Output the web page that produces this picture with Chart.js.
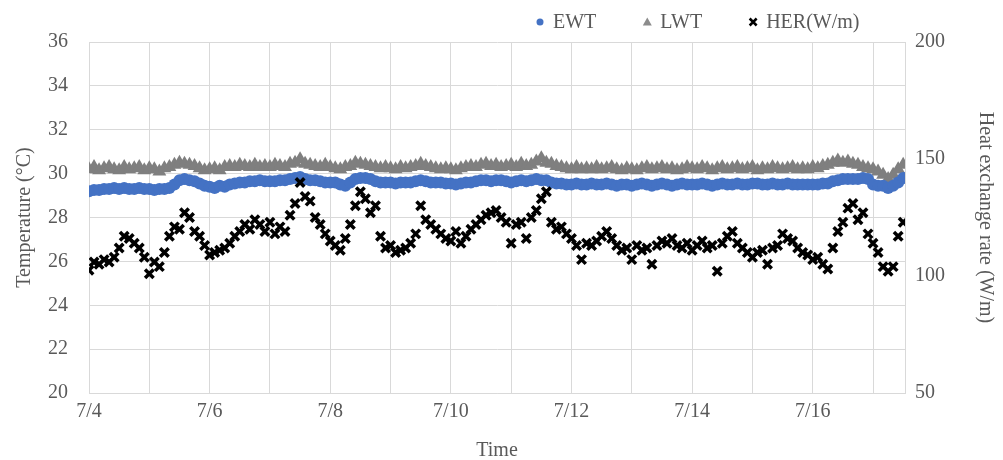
<!DOCTYPE html>
<html>
<head>
<meta charset="utf-8">
<script src="https://cdn.jsdelivr.net/npm/chart.js@4.4.1/dist/chart.umd.min.js"></script>
<style>
	html, body { margin: 0; background: #fff; }
	#wrap { width: 1003px; height: 460px; }
</style>
</head>
<body>
<div id="wrap"><canvas id="chart" width="1003" height="460"></canvas></div>
<script>
// samples every 2 h starting 7/4 00:00
const stepHours = 2;
const xLabels = ["7/4", "7/6", "7/8", "7/10", "7/12", "7/14", "7/16"];
const leftTicks = [20, 36, 2];
const rightTicks = [50, 200, 50];

// entering water temperature (°C)
const ewt = [
	29.2, 29.25, 29.25, 29.3, 29.3, 29.35, 29.3, 29.35, 29.3, 29.3, 29.35, 29.3, 29.3, 29.25, 29.3, 29.3, 29.35,
	29.5, 29.7, 29.75, 29.7, 29.65, 29.55,
	29.45, 29.4, 29.35, 29.45, 29.4,
	29.5, 29.55, 29.6, 29.6, 29.65, 29.65, 29.7, 29.65, 29.65,
	29.65, 29.7, 29.7, 29.75, 29.8, 29.85,
	29.75, 29.7, 29.7, 29.65, 29.6, 29.6, 29.6,
	29.5, 29.45, 29.6,
	29.75, 29.8, 29.8, 29.75,
	29.65, 29.6, 29.6, 29.6, 29.55, 29.6, 29.6, 29.6, 29.65,
	29.7, 29.65, 29.6, 29.6, 29.6, 29.55, 29.55,
	29.5, 29.55, 29.6, 29.6, 29.65, 29.7, 29.7, 29.65, 29.7, 29.7, 29.65,
	29.6, 29.65, 29.7, 29.65, 29.7, 29.75, 29.7, 29.7,
	29.6, 29.55, 29.55, 29.5, 29.5, 29.55, 29.5, 29.5, 29.55,
	29.5, 29.5, 29.55, 29.5, 29.45, 29.5, 29.5, 29.45, 29.5, 29.55, 29.5, 29.45,
	29.5, 29.55, 29.5, 29.45, 29.5, 29.55, 29.5, 29.5, 29.5, 29.55, 29.5, 29.45, 29.5, 29.55,
	29.5, 29.5, 29.55, 29.5, 29.5, 29.55, 29.55, 29.5, 29.5, 29.55, 29.5, 29.5, 29.55, 29.5,
	29.5, 29.5, 29.5, 29.5, 29.5, 29.55, 29.55, 29.65, 29.7, 29.75, 29.75, 29.75, 29.75, 29.8,
	29.75, 29.5, 29.45, 29.45, 29.35, 29.45, 29.6, 29.8,
];

// leaving water temperature (°C)
const lwt = [
	30.2, 30.3, 30.15, 30.25, 30.3, 30.2, 30.15, 30.3, 30.2, 30.25,
	30.3, 30.15, 30.25, 30.2, 30.1, 30.25, 30.3, 30.4, 30.5, 30.45,
	30.4, 30.35, 30.25, 30.15, 30.2, 30.25, 30.15, 30.3, 30.35, 30.3,
	30.4, 30.35, 30.3, 30.4, 30.3, 30.35, 30.3, 30.4, 30.35, 30.3,
	30.45, 30.5, 30.65, 30.45, 30.4, 30.35, 30.3, 30.4, 30.3, 30.25,
	30.2, 30.3, 30.35, 30.5, 30.45, 30.4, 30.35, 30.3, 30.25, 30.3,
	30.25, 30.2, 30.3, 30.25, 30.3, 30.35, 30.45, 30.35, 30.3, 30.25,
	30.2, 30.25, 30.2, 30.15, 30.25, 30.3, 30.35, 30.3, 30.4, 30.45,
	30.35, 30.4, 30.3, 30.35, 30.4, 30.3, 30.45, 30.35, 30.4, 30.55,
	30.7, 30.5, 30.45, 30.35, 30.3, 30.25, 30.2, 30.3, 30.2, 30.25,
	30.2, 30.3, 30.2, 30.25, 30.3, 30.2, 30.15, 30.25, 30.2, 30.15,
	30.25, 30.3, 30.2, 30.25, 30.3, 30.2, 30.25, 30.15, 30.2, 30.3,
	30.25, 30.2, 30.3, 30.25, 30.15, 30.25, 30.3, 30.2, 30.25, 30.3,
	30.2, 30.25, 30.3, 30.15, 30.25, 30.2, 30.3, 30.25, 30.2, 30.25,
	30.3, 30.2, 30.25, 30.2, 30.3, 30.25, 30.35, 30.4, 30.5, 30.6,
	30.5, 30.55, 30.45, 30.4, 30.3, 30.25, 30.2, 30.1, 29.95, 29.75,
	29.95, 30.2, 30.4,
];

// heat exchange rate (W/m)
const her = [
	102.5, 106, 105, 107, 106, 108, 112, 117, 116, 114,
	112, 108, 101, 106, 104, 110, 117, 121, 120, 127,
	125, 119, 117, 113, 109, 110, 111, 112, 114, 117,
	119, 122, 120, 124, 122, 119, 123, 118, 121, 119,
	126, 131, 140, 134, 132, 125, 122, 118, 115, 113,
	111, 116, 122, 130, 136, 133, 127, 130, 117, 112,
	113, 110, 111, 112, 114, 118, 130, 124, 122, 120,
	118, 116, 115, 119, 114, 117, 120, 122, 124, 126,
	127, 128, 125, 123, 114, 122, 123, 116, 125, 128,
	133, 136, 123, 120, 121, 118, 116, 113, 107, 114,
	113, 115, 117, 119, 116, 113, 111, 112, 107, 113,
	111, 112, 105, 113, 115, 114, 116, 113, 112, 114,
	111, 113, 115, 112, 113, 102, 114, 117, 119, 114,
	112, 110, 108, 110, 111, 105, 112, 113, 118, 116,
	115, 112, 110, 109, 107, 108, 105, 103, 112, 119,
	123, 129, 131, 124, 127, 118, 114, 110, 104, 102,
	104, 117, 123,
];

const textColor = "#595959";
const gridColor = "#d9d9d9";
const serif = "'Liberation Serif', 'Times New Roman', serif";

const toPoints = (arr) => arr.map((y, i) => ({ x: (i * stepHours) / 24, y }));

const legendItems = [
	{ label: "EWT", style: "circle", color: "#4472C4" },
	{ label: "LWT", style: "triangle", color: "#8c8c8c" },
	{ label: "HER(W/m)", style: "cross", color: "#000000" },
];

function drawMarker(ctx, style, x, y, color) {
	ctx.save();
	ctx.fillStyle = color;
	ctx.strokeStyle = color;
	if (style === "circle") {
		ctx.beginPath();
		ctx.arc(x, y, 3.5, 0, Math.PI * 2);
		ctx.fill();
	} else if (style === "triangle") {
		ctx.beginPath();
		ctx.moveTo(x, y - 4.5);
		ctx.lineTo(x + 4.5, y + 3.5);
		ctx.lineTo(x - 4.5, y + 3.5);
		ctx.closePath();
		ctx.fill();
	} else {
		ctx.lineWidth = 2.5;
		ctx.beginPath();
		ctx.moveTo(x - 3.5, y - 3.5);
		ctx.lineTo(x + 3.5, y + 3.5);
		ctx.moveTo(x + 3.5, y - 3.5);
		ctx.lineTo(x - 3.5, y + 3.5);
		ctx.stroke();
	}
	ctx.restore();
}

const topLegend = {
	id: "topLegend",
	afterDraw(chart) {
		const ctx = chart.ctx;
		ctx.save();
		ctx.font = `20px ${serif}`;
		ctx.fillStyle = textColor;
		ctx.textBaseline = "middle";
		let x = 540;
		const y = 22;
		legendItems.forEach((item) => {
			drawMarker(ctx, item.style, x, y, item.color);
			ctx.fillStyle = textColor;
			ctx.fillText(item.label, x + 13, y + 1);
			x += 13 + ctx.measureText(item.label).width + 51;
		});
		ctx.restore();
	},
};

const tickFont = { family: serif, size: 20 };

new Chart(document.getElementById("chart"), {
	type: "scatter",
	data: {
		datasets: [
			{
				label: "HER(W/m)",
				data: toPoints(her),
				yAxisID: "y1",
				pointStyle: "crossRot",
				pointRadius: 6,
				borderWidth: 3.5,
				borderColor: "#000",
				backgroundColor: "#000",
			},
			{
				label: "EWT",
				data: toPoints(ewt),
				yAxisID: "y",
				pointStyle: "circle",
				pointRadius: 6,
				borderWidth: 0,
				backgroundColor: "#4472C4",
			},
			{
				label: "LWT",
				data: toPoints(lwt),
				yAxisID: "y",
				pointStyle: "triangle",
				pointRadius: 8,
				borderWidth: 0,
				backgroundColor: "#7f7f7f",
			},
		],
	},
	options: {
		responsive: false,
		animation: false,
		layout: { padding: { top: 42 } },
		plugins: { legend: { display: false }, tooltip: { enabled: false } },
		scales: {
			x: {
				type: "linear",
				min: 0,
				max: 13.53,
				afterFit: (s) => { s.height = 67; },
				ticks: {
					stepSize: 1,
					includeBounds: false,
					autoSkip: false,
					maxRotation: 0,
					padding: 7,
					color: textColor,
					font: tickFont,
					callback: (v) => (v % 2 === 0 ? xLabels[v / 2] : ""),
				},
				grid: { color: gridColor, drawTicks: false },
				border: { color: gridColor },
				title: { display: true, text: "Time", color: textColor, font: tickFont, padding: { top: 0, bottom: -3 } },
			},
			y: {
				position: "left",
				min: leftTicks[0],
				max: leftTicks[1],
				afterFit: (s) => { s.width = 89; },
				ticks: { stepSize: leftTicks[2], padding: 21, color: textColor, font: tickFont },
				grid: { color: gridColor, drawTicks: false },
				border: { color: gridColor },
				title: { display: true, text: "Temperature (°C)", color: textColor, font: tickFont, padding: { top: 13, bottom: 0 } },
			},
			y1: {
				position: "right",
				min: rightTicks[0],
				max: rightTicks[1],
				afterFit: (s) => { s.width = 98; },
				ticks: { stepSize: rightTicks[2], padding: 10, color: textColor, font: tickFont },
				grid: { drawOnChartArea: false, drawTicks: false },
				border: { color: gridColor },
				title: { display: true, text: "Heat exchange rate (W/m)", color: textColor, font: tickFont, padding: { top: 6, bottom: 0 } },
			},
		},
	},
	plugins: [topLegend],
});
</script>
</body>
</html>
